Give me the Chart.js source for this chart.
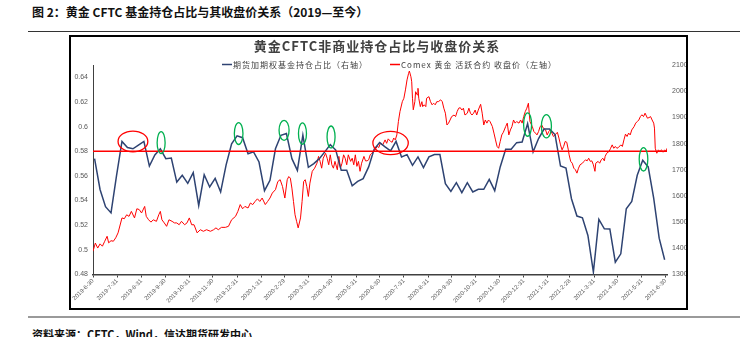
<!DOCTYPE html>
<html>
<head>
<meta charset="utf-8">
<script src="https://cdn.jsdelivr.net/npm/chart.js@4.4.0/dist/chart.umd.min.js"></script>
<style>
body{margin:0;width:740px;height:337px;overflow:hidden;background:#fff;position:relative;font-family:"Noto Sans CJK SC",sans-serif}
#cap{position:absolute;left:32px;top:4px;font-size:12px;line-height:16px;font-weight:bold;color:#111;white-space:nowrap}
#rule1{position:absolute;left:28px;top:31px;width:712px;height:0;border-top:1px solid #333}
#box{position:absolute;left:69px;top:35px;width:619px;height:275px;box-sizing:border-box;border:2px solid #000}
#box canvas{position:absolute;left:0;top:0}
#rule2{position:absolute;left:28px;top:316px;width:712px;height:2px;background:#9a9a9a}
#src{position:absolute;left:32px;top:326px;font-size:11px;line-height:16px;font-weight:bold;color:#111;white-space:nowrap}
</style>
</head>
<body>
<div id="cap">图 2：黄金 CFTC 基金持仓占比与其收盘价关系（2019—至今）</div>
<div id="rule1"></div>
<div id="box"><canvas id="c" width="615" height="271"></canvas></div>
<div id="rule2"></div>
<div id="src">资料来源：CFTC，Wind，信达期货研发中心</div>
<script>
// month-end tick labels on the date axis
const monthLabels = ['2019-6-30','2019-7-31','2019-8-31','2019-9-30','2019-10-31','2019-11-30','2019-12-31',
  '2020-1-31','2020-2-29','2020-3-31','2020-4-30','2020-5-31','2020-6-30','2020-7-31','2020-8-31','2020-9-30',
  '2020-10-31','2020-11-30','2020-12-31','2021-1-31','2021-2-28','2021-3-31','2021-4-30','2021-5-31','2021-6-30'];

const shareTicks = [0.48, 0.5, 0.52, 0.54, 0.56, 0.58, 0.6, 0.62, 0.64];
const threshold = 0.58;

// CFTC weekly non-commercial share, first report 2019-7-2
const cftcStart = '2019-7-2';
const cftcShare = [0.574,0.549,0.535,0.530,0.560,0.588,0.583,0.582,0.585,0.588,
  0.568,0.577,0.582,0.574,0.5745,0.555,0.5605,0.554,0.5627,0.536,
  0.561,0.551,0.558,0.547,0.569,0.586,0.5925,0.591,0.578,0.5795,
  0.5713,0.548,0.5564,0.582,0.593,0.5944,0.574,0.5645,0.593,0.567,
  0.570,0.574,0.5795,0.5854,0.581,0.5645,0.5645,0.552,0.5556,0.5578,
  0.5673,0.5816,0.587,0.5835,0.5803,0.588,0.5754,0.5773,0.5686,0.5754,
  0.5667,0.5754,0.5773,0.5773,0.5537,0.5475,0.5545,0.5464,0.5545,0.547,
  0.5491,0.5491,0.5572,0.548,0.5673,0.5816,0.5816,0.587,0.5875,0.6025,
  0.5795,0.5903,0.598,0.598,0.5936,0.568,0.5664,0.5415,0.5274,0.526,
  0.5117,0.482,0.5247,0.5171,0.517,0.490,0.4968,0.5334,0.5393,0.5605,
  0.5727,0.5673,0.542,0.5095,0.492];

// Comex gold close, days after 2019-6-30
const goldDays = [0,3,6,9,12,15,18,20,23,26,29,32,37,40,43,46,49,53,56,59,62,66,68,71,74,77,81,84,86,88,
  91,94,97,101,104,107,110,113,117,120,123,126,129,133,137,141,145,150,154,157,160,164,169,173,177,
  182,185,188,191,194,198,201,204,207,210,213,216,220,223,226,229,233,236,239,242,245,248,250,252,254,
  256,258,260,262,265,267,269,271,273,275,277,280,283,286,288,290,292,294,297,299,301,303,305,307,309,
  312,314,316,318,320,322,324,326,329,331,333,335,337,339,341,343,346,348,350,352,354,356,358,360,363,365,
  367,370,373,375,377,380,382,384,386,388,390,392,395,397,399,401,403,404,406,407,408,409,411,412,414,415,
  416,418,420,421,423,425,426,429,431,433,435,437,439,441,444,446,448,450,452,454,456,458,461,463,465,467,
  469,471,473,475,478,480,482,484,486,488,490,492,495,497,499,501,503,505,507,510,512,514,516,518,520,522,
  524,527,529,531,533,535,537,539,541,544,546,548,550,
  552,554,556,558,561,563,565,567,569,571,573,575,578,580,582,584,586,588,590,593,595,597,599,601,603,605,
  607,608,610,612,614,616,618,620,622,625,627,629,631,633,635,637,639,641,642,645,647,649,651,653,654,656,
  659,661,663,665,667,669,671,674,676,678,680,682,684,686,688,691,693,695,697,699,701,703,705,708,710,712,
  714,716,717,718,720,722,724,726,728,730,732,733];
const goldClose = [1389,1420,1401,1417,1408,1427,1446,1421,1429,1427,1440,1459,1516,1513,1528,1522,1541,1516,1551,1548,
  1535,1560,1522,1509,1500,1509,1503,1528,1541,1509,1497,1484,1509,1503,1497,1497,1490,1503,1490,1497,
  1516,1490,1490,1459,1471,1465,1471,1465,1471,1478,1471,1480,1480,1484,1509,
  1522,1541,1567,1551,1560,1554,1573,1567,1579,1589,1579,1592,1567,1579,1592,1611,1624,1655,1662,1636,
  1592,1662,1674,1668,1630,1579,1528,1503,1478,1516,1579,1655,1662,1636,1598,1649,1694,1706,1725,1751,
  1732,1706,1744,1763,1744,1719,1757,1719,1706,1732,1700,1751,1706,1725,1757,1744,1719,1757,1732,1744,
  1719,1757,1713,1732,1694,1725,1751,1734,1734,1738,1757,1763,1770,1776,1789,1785,
  1802,1795,1814,1801,1818,1808,1805,1821,1814,1833,1884,1922,1960,1973,2005,2043,2068,2077,2055,2036,
  1973,1929,1960,1998,1986,2011,1973,1941,1960,1941,1948,1941,1973,1979,1960,1948,1954,1948,1960,1960,
  1967,1960,1935,1916,1871,1878,1890,1903,1909,1903,1922,1935,1937,1928,1935,1909,1916,1935,1916,1909,
  1916,1928,1909,1928,1950,1916,1871,1890,1878,1890,1884,1865,1840,1814,1789,1782,1808,1833,1843,1865,
  1878,1833,1852,1865,1890,1878,1884,1878,1890,1878,1903,
  1922,1935,1954,1884,1865,1846,1840,1833,1846,1865,1871,1859,1852,1833,1846,1852,1840,1827,1833,1843,
  1821,1795,1776,1789,1808,1805,1776,1757,1732,1725,1706,1700,1687,1706,1719,1725,1732,1738,1734,1744,
  1732,1734,1719,1694,1725,1732,1725,1738,1744,1734,1751,1763,1770,1782,1795,1782,1789,1782,1785,1795,
  1789,1814,1836,1827,1840,1833,1852,1865,1878,1884,1890,1903,1910,1903,1916,1897,1899,1903,1890,1878,
  1859,1782,1763,1776,1770,1776,1767,1776,1770,1782];

// hand-drawn highlight rings: centre (day, share) and half-size
const rings = [
  {day:51, share:0.588, dDay:19, dShare:0.0084, color:'#ff0000'},
  {day:87, share:0.587, dDay:5.1, dShare:0.0089, color:'#00b050'},
  {day:186, share:0.5944, dDay:5.5, dShare:0.0089, color:'#00b050'},
  {day:244, share:0.597, dDay:6.4, dShare:0.0081, color:'#00b050'},
  {day:267.5, share:0.5944, dDay:5.1, dShare:0.0087, color:'#00b050'},
  {day:304, share:0.5916, dDay:5.1, dShare:0.0089, color:'#00b050'},
  {day:380, share:0.5867, dDay:22.6, dShare:0.0095, color:'#ff0000'},
  {day:555, share:0.6017, dDay:5.1, dShare:0.0095, color:'#00b050'},
  {day:579, share:0.6003, dDay:6.4, dShare:0.0095, color:'#00b050'},
  {day:703, share:0.5735, dDay:5.5, dShare:0.0095, color:'#00b050'}
];

const base = Date.UTC(2019, 5, 30);
function dayOf(s) {
  const [y, m, d] = s.split('-').map(Number);
  return Math.round((Date.UTC(y, m - 1, d) - base) / 864e5);
}
const monthDays = monthLabels.map(dayOf);
const labelByDay = new Map(monthDays.map((d, i) => [d, monthLabels[i]]));
const d0 = dayOf(cftcStart);

const shareData = cftcShare.map((v, i) => ({x: d0 + 7 * i, y: v}));
const goldData = goldClose.map((v, i) => ({x: goldDays[i], y: v}));
const lineData = [{x: 0, y: threshold}, {x: 733, y: threshold}];

const extras = {
  id: 'extras',
  afterDatasetsDraw(chart) {
    const ctx = chart.ctx, x = chart.scales.x, y = chart.scales.y;
    ctx.save();
    ctx.lineWidth = 1.3;
    rings.forEach(r => {
      const cx = x.getPixelForValue(r.day), cy = y.getPixelForValue(r.share);
      const rx = x.getPixelForValue(r.day + r.dDay) - cx;
      const ry = cy - y.getPixelForValue(r.share + r.dShare);
      ctx.strokeStyle = r.color;
      ctx.beginPath();
      ctx.ellipse(cx, cy, rx, ry, 0, 0, Math.PI * 2);
      ctx.stroke();
    });
    ctx.restore();
  },
  afterDraw(chart) {
    const ctx = chart.ctx;
    ctx.save();
    ctx.fillStyle = '#404040';
    ctx.textBaseline = 'middle';
    ctx.textAlign = 'center';
    ctx.font = 'bold 13px "Noto Sans CJK SC"';
    ctx.letterSpacing = '1px';
    ctx.fillText('黄金CFTC非商业持仓占比与收盘价关系', 306, 9);
    ctx.font = '8px "Noto Sans CJK SC"';
    ctx.textAlign = 'left';
    const items = [
      {text: '期货加期权基金持仓占比（右轴）', color: '#2e4372', x: 151},
      {text: 'Comex 黄金 活跃合约 收盘价（左轴）', color: '#ff0000', x: 319}
    ];
    items.forEach(it => {
      ctx.strokeStyle = it.color;
      ctx.lineWidth = 1.5;
      ctx.beginPath();
      ctx.moveTo(it.x, 27.5);
      ctx.lineTo(it.x + 10, 27.5);
      ctx.stroke();
      ctx.fillStyle = '#404040';
      ctx.fillText(it.text, it.x + 11, 27.5);
    });
    ctx.restore();
  }
};

new Chart(document.getElementById('c'), {
  type: 'line',
  data: {
    datasets: [
      {label: 'threshold', data: lineData, yAxisID: 'y', borderColor: '#ff0000', borderWidth: 1.5, pointRadius: 0, order: 0},
      {label: '期货加期权基金持仓占比（右轴）', data: shareData, yAxisID: 'y', borderColor: '#2e4372', borderWidth: 1.5, pointRadius: 0, tension: 0, order: 1},
      {label: 'Comex 黄金 活跃合约 收盘价（左轴）', data: goldData, yAxisID: 'y1', borderColor: '#ff0000', borderWidth: 1, pointRadius: 0, tension: 0, order: 2}
    ]
  },
  options: {
    responsive: false,
    animation: false,
    events: [],
    layout: {padding: {top: 28, left: 0, right: 0, bottom: 0}},
    plugins: {legend: {display: false}, title: {display: false}, tooltip: {enabled: false}},
    scales: {
      x: {
        type: 'linear', min: 0, max: 733,
        afterBuildTicks: s => { s.ticks = monthDays.map(v => ({value: v})); },
        afterFit: s => { s.height = 33.5; },
        ticks: {autoSkip: false, minRotation: 45, maxRotation: 45, padding: 0, color: '#595959',
          font: {size: 6, family: 'Arial'}, callback: v => labelByDay.get(v) || ''},
        grid: {drawOnChartArea: false, drawTicks: true, tickLength: 3, color: '#404040'},
        border: {display: true, color: '#404040', width: 1.5}
      },
      y: {
        position: 'left', min: 0.48, max: 0.65,
        afterBuildTicks: s => { s.ticks = shareTicks.map(v => ({value: v})); },
        afterFit: s => { s.width = 22; },
        ticks: {padding: 5, color: '#595959', font: {size: 7, family: 'Arial'}, callback: v => String(v)},
        grid: {drawOnChartArea: false, drawTicks: false},
        border: {display: true, color: '#404040', width: 1}
      },
      y1: {
        position: 'right', min: 1300, max: 2100,
        afterFit: s => { s.width = 19; },
        ticks: {stepSize: 100, padding: 5, color: '#595959', font: {size: 7, family: 'Arial'}, callback: v => String(v)},
        grid: {display: false, drawOnChartArea: false, drawTicks: false},
        border: {display: false}
      }
    }
  },
  plugins: [extras]
});
</script>
</body>
</html>
